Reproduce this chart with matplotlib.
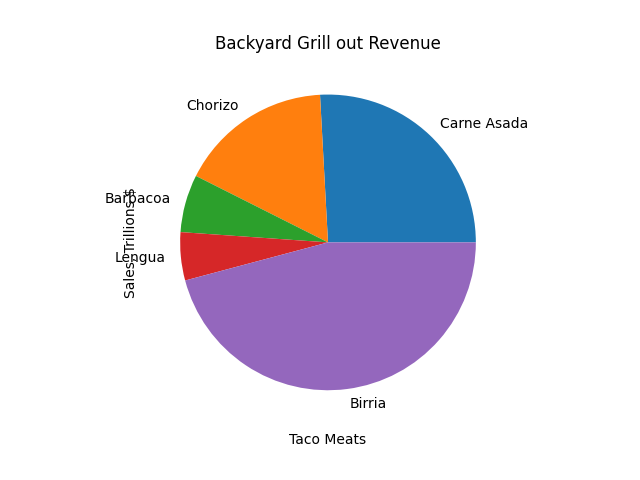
import matplotlib
matplotlib.use('Agg')
import matplotlib.pyplot as plt

# Taco meat revenue
meats = ['Carne Asada', 'Chorizo', 'Barbacoa', 'Lengua', 'Birria']
sales = [25.86, 16.72, 6.31, 5.26, 45.85]

fig, ax = plt.subplots(figsize=(6.4, 4.8), dpi=100)
ax.pie(sales, labels=meats)
ax.set_title('Backyard Grill out Revenue')
ax.set_xlabel('Taco Meats')
ax.set_ylabel('Sales, Trillions $')

plt.savefig('out.png')
